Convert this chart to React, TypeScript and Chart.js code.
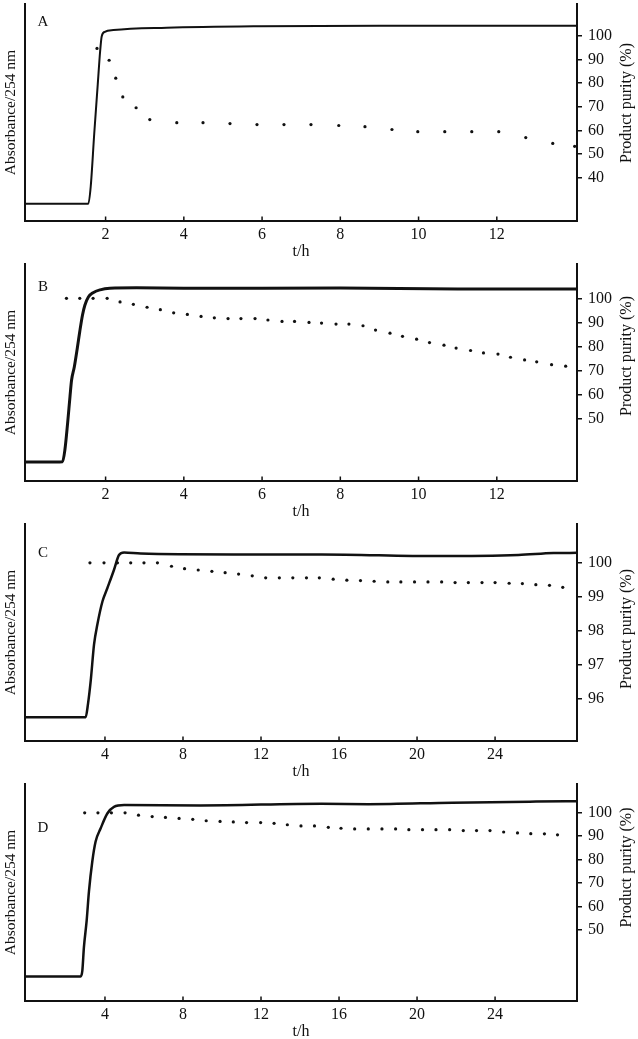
import React, { useEffect, useRef } from 'react';
import { Chart, registerables } from 'chart.js';

Chart.register(...registerables);

const FONT = '"Liberation Serif", "Times New Roman", serif';

// ---------- Panel A ----------
const aAbsT = [-0.06, 1.0, 1.56, 1.62, 1.71, 1.8, 1.86, 1.9, 1.98, 2.2, 3.56, 5.92, 9.0, 14.05];
const aAbsV = [7.9, 8.0, 8.0, 15.9, 40.3, 63.1, 78.1, 85.0, 87.2, 88.0, 89.1, 89.8, 90.0, 90.0];
const aPurT = [1.78, 2.09, 2.26, 2.44, 2.78, 3.13, 3.82, 4.49, 5.18, 5.87, 6.56, 7.25, 7.96, 8.63, 9.32, 9.98, 10.67, 11.36, 12.05, 12.74, 13.43, 13.99];
const aPurV = [94.7, 89.7, 82.1, 74.2, 69.6, 64.6, 63.3, 63.3, 62.9, 62.5, 62.5, 62.5, 62.1, 61.6, 60.4, 59.5, 59.5, 59.5, 59.5, 57.0, 54.5, 53.3];
const aPurTicks = [40, 50, 60, 70, 80, 90, 100];

// ---------- Panel B ----------
const bAbsT = [-0.06, 0.5, 0.9, 0.96, 1.03, 1.09, 1.13, 1.2, 1.28, 1.34, 1.41, 1.47, 1.56, 1.68, 1.86, 2.11, 2.79, 4.0, 8.0, 11.0, 14.05];
const bAbsV = [8.7, 8.7, 8.9, 14.4, 26.8, 38.9, 46.4, 52.5, 61.6, 68.9, 76.5, 81.0, 84.8, 86.8, 88.1, 88.8, 89.0, 88.8, 88.9, 88.5, 88.5];
const bPurT = [1.0, 1.34, 1.68, 2.04, 2.37, 2.71, 3.06, 3.4, 3.74, 4.09, 4.44, 4.78, 5.13, 5.46, 5.82, 6.15, 6.51, 6.83, 7.2, 7.52, 7.89, 8.22, 8.58, 8.9, 9.27, 9.59, 9.95, 10.28, 10.65, 10.96, 11.33, 11.66, 12.03, 12.35, 12.71, 13.02, 13.4, 13.76];
const bPurV = [100, 100, 100, 100, 98.5, 97.5, 96.3, 95.3, 94.0, 93.3, 92.5, 91.9, 91.6, 91.6, 91.6, 91.0, 90.4, 90.4, 90.0, 89.7, 89.3, 89.3, 88.6, 86.8, 85.5, 84.2, 83.0, 81.6, 80.5, 79.3, 78.3, 77.3, 76.8, 75.5, 74.4, 73.6, 72.4, 71.8];
const bPurTicks = [50, 60, 70, 80, 90, 100];

// ---------- Panel C ----------
const cAbsT = [-0.1, 1.5, 3.01, 3.13, 3.27, 3.44, 3.61, 3.87, 4.12, 4.46, 4.72, 4.98, 5.83, 10.6, 15.1, 21.0, 25.2, 27.0, 28.2];
const cAbsV = [11.0, 11.0, 11.0, 17.1, 27.8, 44.5, 53.7, 64.3, 70.4, 78.8, 85.7, 86.9, 86.4, 86.0, 86.0, 85.2, 85.7, 86.6, 86.7];
const cPurT = [3.23, 3.95, 4.64, 5.32, 6.0, 6.69, 7.41, 8.08, 8.78, 9.48, 10.16, 10.85, 11.55, 12.24, 12.94, 13.63, 14.33, 14.99, 15.7, 16.4, 17.1, 17.8, 18.5, 19.17, 19.87, 20.56, 21.26, 21.95, 22.63, 23.33, 24.0, 24.72, 25.4, 26.09, 26.79, 27.47];
const cPurV = [100, 100, 100, 100, 100, 100, 99.9, 99.83, 99.79, 99.75, 99.71, 99.67, 99.62, 99.56, 99.56, 99.56, 99.56, 99.56, 99.52, 99.49, 99.48, 99.46, 99.44, 99.44, 99.44, 99.44, 99.44, 99.42, 99.42, 99.42, 99.42, 99.4, 99.39, 99.36, 99.34, 99.28];
const cPurTicks = [96, 97, 98, 99, 100];

// ---------- Panel D ----------
const dAbsT = [-0.1, 1.5, 2.75, 2.84, 2.92, 3.06, 3.18, 3.35, 3.52, 3.78, 4.12, 4.46, 4.98, 8.9, 15.1, 17.5, 21.8, 26.1, 28.2];
const dAbsV = [11.3, 11.3, 11.3, 14.0, 24.7, 36.9, 50.6, 64.3, 73.5, 79.6, 86.4, 89.5, 90.3, 90.1, 90.9, 90.7, 91.4, 91.9, 92.1];
const dPurT = [2.96, 3.64, 4.33, 5.03, 5.72, 6.42, 7.1, 7.8, 8.5, 9.19, 9.9, 10.58, 11.26, 11.98, 12.67, 13.35, 14.05, 14.74, 15.45, 16.1, 16.8, 17.5, 18.2, 18.9, 19.58, 20.28, 20.97, 21.67, 22.37, 23.05, 23.74, 24.44, 25.15, 25.83, 26.53, 27.2];
const dPurV = [100, 100, 100, 100, 99.0, 98.4, 98.0, 97.6, 97.2, 96.6, 96.3, 96.1, 95.8, 95.8, 95.5, 94.9, 94.4, 94.4, 93.8, 93.4, 93.1, 93.1, 93.1, 93.1, 92.8, 92.8, 92.8, 92.8, 92.4, 92.4, 92.4, 91.8, 91.4, 91.1, 91.0, 90.6];
const dPurTicks = [50, 60, 70, 80, 90, 100];

// ---------- shared ----------
const abTimeTicks = [2, 4, 6, 8, 10, 12];
const cdTimeTicks = [4, 8, 12, 16, 20, 24];

const xTitle = 't/h';
const leftTitle = 'Absorbance/254 nm';
const rightTitle = 'Product purity (%)';

type PanelCfg = {
  letter: string;
  absT: number[]; absV: number[];
  purT: number[]; purV: number[];
  timeTicks: number[]; purTicks: number[];
  xMin: number; xMax: number; yMin: number; yMax: number;
  lineWidth: number; letterBase: number; rightTitleY: number;
};

const panels: PanelCfg[] = [
  { letter: 'A', absT: aAbsT, absV: aAbsV, purT: aPurT, purV: aPurV, timeTicks: abTimeTicks, purTicks: aPurTicks,
    xMin: -0.06, xMax: 14.05, yMin: 21.7, yMax: 113.5, lineWidth: 2, letterBase: 25.7, rightTitleY: 103 },
  { letter: 'B', absT: bAbsT, absV: bAbsV, purT: bPurT, purV: bPurV, timeTicks: abTimeTicks, purTicks: bPurTicks,
    xMin: -0.06, xMax: 14.05, yMin: 24.0, yMax: 114.3, lineWidth: 3, letterBase: 31, rightTitleY: 96 },
  { letter: 'C', absT: cAbsT, absV: cAbsV, purT: cPurT, purV: cPurV, timeTicks: cdTimeTicks, purTicks: cPurTicks,
    xMin: -0.1, xMax: 28.2, yMin: 94.77, yMax: 101.14, lineWidth: 2.5, letterBase: 36.7, rightTitleY: 109 },
  { letter: 'D', absT: dAbsT, absV: dAbsV, purT: dPurT, purV: dPurV, timeTicks: cdTimeTicks, purTicks: dPurTicks,
    xMin: -0.1, xMax: 28.2, yMin: 19.6, yMax: 112.3, lineWidth: 2.5, letterBase: 51.7, rightTitleY: 87.5 },
];

const INK = '#111';

const decorPlugin = {
  id: 'decor',
  afterDraw(chart: any, _args: any, opts: any) {
    const { ctx, chartArea } = chart;
    const xs = chart.scales.x;
    ctx.save();
    ctx.strokeStyle = INK;
    ctx.lineWidth = 1.5;
    xs.ticks.forEach((t: any) => {
      const px = xs.getPixelForValue(t.value);
      ctx.beginPath();
      ctx.moveTo(px, chartArea.bottom);
      ctx.lineTo(px, chartArea.bottom - 4.5);
      ctx.stroke();
    });
    ctx.fillStyle = INK;
    ctx.font = `15px ${FONT}`;
    ctx.textAlign = 'center';
    ctx.textBaseline = 'alphabetic';
    ctx.fillText(opts.letter, 43, opts.letterBase);
    ctx.translate(631, opts.rightTitleY);
    ctx.rotate(-Math.PI / 2);
    ctx.font = `16px ${FONT}`;
    ctx.fillText(rightTitle, 0, 0);
    ctx.restore();
  },
};

function Panel({ cfg, top }: { cfg: PanelCfg; top: number }) {
  const ref = useRef<HTMLCanvasElement>(null);
  useEffect(() => {
    const canvas = ref.current!;
    const chart = new Chart(canvas, {
      type: 'line',
      data: {
        datasets: [
          {
            label: 'absorbance',
            data: cfg.absT.map((t, i) => ({ x: t, y: cfg.absV[i] })),
            borderColor: INK,
            borderWidth: cfg.lineWidth,
            pointRadius: 0,
            cubicInterpolationMode: 'monotone',
            fill: false,
            yAxisID: 'y',
            order: 0,
          },
          {
            label: 'purity',
            data: cfg.purT.map((t, i) => ({ x: t, y: cfg.purV[i] })),
            showLine: false,
            pointRadius: 1.6,
            pointBorderWidth: 0,
            pointBackgroundColor: INK,
            borderColor: INK,
            yAxisID: 'y1',
            order: 1,
          },
        ],
      } as any,
      options: {
        responsive: false,
        animation: false,
        layout: { padding: { top: 2, left: 0, right: 0, bottom: 0 } },
        plugins: {
          legend: { display: false },
          tooltip: { enabled: false },
          decor: { letter: cfg.letter, letterBase: cfg.letterBase, rightTitleY: cfg.rightTitleY },
        } as any,
        scales: {
          x: {
            type: 'linear',
            min: cfg.xMin,
            max: cfg.xMax,
            afterBuildTicks: (s: any) => { s.ticks = cfg.timeTicks.map((v) => ({ value: v })); },
            afterFit: (s: any) => { s.height = 39; s.paddingLeft = 0; s.paddingRight = 0; },
            grid: { display: false, drawTicks: false },
            border: { display: true, color: INK, width: 2 },
            ticks: { color: INK, font: { family: FONT, size: 16 }, padding: 4, maxRotation: 0, autoSkip: false },
            title: { display: true, text: xTitle, color: INK, font: { family: FONT, size: 16, lineHeight: 1 }, padding: 0 },
          },
          y: {
            type: 'linear',
            position: 'left',
            min: 0,
            max: 100,
            afterFit: (s: any) => { s.width = 25; s.paddingTop = 0; s.paddingBottom = 0; },
            grid: { display: false, drawTicks: false },
            border: { display: true, color: INK, width: 2 },
            ticks: { display: false },
            title: { display: true, text: leftTitle, color: INK, font: { family: FONT, size: 15.5 }, padding: { top: 2, bottom: 0 } },
          },
          y1: {
            type: 'linear',
            position: 'right',
            min: cfg.yMin,
            max: cfg.yMax,
            afterBuildTicks: (s: any) => { s.ticks = cfg.purTicks.map((v) => ({ value: v })); },
            afterFit: (s: any) => { s.width = 61; s.paddingTop = 0; s.paddingBottom = 0; },
            grid: { display: true, drawOnChartArea: false, drawTicks: true, tickLength: 5, color: INK, lineWidth: 1.5 },
            border: { display: true, color: INK, width: 2 },
            ticks: { color: INK, font: { family: FONT, size: 16 }, padding: 6, autoSkip: false },
            title: { display: false },
          },
        },
      } as any,
      plugins: [decorPlugin as any],
    });
    return () => chart.destroy();
  }, [cfg]);
  return (
    <canvas
      ref={ref}
      width={638}
      height={260}
      style={{ position: 'absolute', left: 0, top, width: 638, height: 260 }}
    />
  );
}

export default function App() {
  return (
    <div
      style={{
        position: 'absolute',
        left: 0,
        top: 0,
        width: 638,
        height: 1039,
        overflow: 'hidden',
        background: '#fff',
      }}
    >
      {panels.map((p, i) => (
        <Panel key={p.letter} cfg={p} top={i * 260} />
      ))}
    </div>
  );
}
